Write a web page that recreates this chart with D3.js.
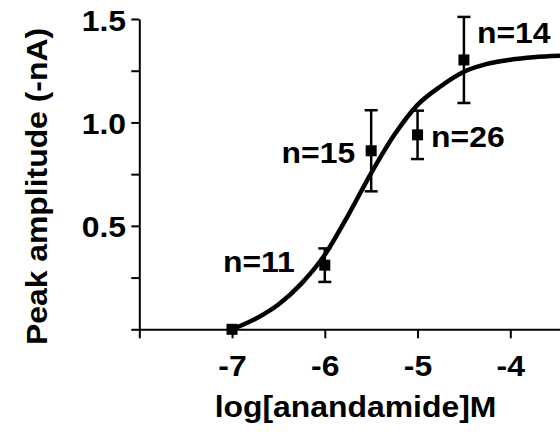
<!DOCTYPE html>
<html>
<head>
<meta charset="utf-8">
<script src="https://cdn.jsdelivr.net/npm/d3@7"></script>
<style>
  html, body { margin: 0; padding: 0; background: #fff; }
  svg text { font-family: "Liberation Sans", Arial, sans-serif; font-weight: bold; fill: #000; }
</style>
</head>
<body>
<div id="chart"></div>
<script>
// concentrations (log M), mean peak amplitude (-nA), SEM, cell count
const logConc = [-7, -6, -5.5, -5, -4.5];
const amplitude = [0.0, 0.31, 0.863, 0.94, 1.302];
const sem = [0, 0.081, 0.196, 0.117, 0.208];
const cellCount = [null, 11, 15, 26, 14];

// fitted curve
const fitX = [-7, -6.75, -6.5, -6.25, -6, -5.75, -5.5, -5.25, -5, -4.75, -4.5, -4.25, -4, -3.75, -3.45];
const fitY = [0.0, 0.05, 0.12, 0.222, 0.36, 0.55, 0.755, 0.94, 1.085, 1.175, 1.245, 1.283, 1.303, 1.315, 1.322];

const xTicks = [-8, -7, -6, -5, -4];
const xTickLabels = ["", "-7", "-6", "-5", "-4"];
const yTicks = [0, 0.25, 0.5, 0.75, 1.0, 1.25, 1.5];
const yTickLabels = ["", "", "0.5", "", "1.0", "", "1.5"];

const W = 560, H = 435;
const stretch = "scale(1.1,1)"; // text in the original is a bit wide

const svg = d3.select("#chart").append("svg")
  .attr("width", W).attr("height", H);

const x = d3.scaleLinear().domain([-8, -3.45]).range([139.3, 139.3 + 4.55 * 92.75]);
const y = d3.scaleLinear().domain([0, 1.5]).range([329.3, 19]);

// x axis
const xAxis = svg.append("g")
  .attr("transform", `translate(0,${y(0)})`)
  .call(d3.axisBottom(x).tickValues(xTicks).tickSize(9).tickSizeOuter(0)
    .tickFormat((d, i) => xTickLabels[i]));
xAxis.select(".domain").attr("stroke-width", 2);
xAxis.selectAll(".tick line").attr("stroke-width", 2);
xAxis.selectAll(".tick text")
  .attr("y", 47).attr("dy", 0)
  .attr("transform", stretch)
  .style("font-size", "29px");

// y axis
const yAxis = svg.append("g")
  .attr("transform", `translate(${x(-8)},0)`)
  .call(d3.axisLeft(y).tickValues(yTicks).tickSize(8).tickSizeOuter(0)
    .tickFormat((d, i) => yTickLabels[i]));
yAxis.select(".domain").attr("stroke-width", 2);
yAxis.selectAll(".tick line").attr("stroke-width", 2);
yAxis.selectAll(".tick text")
  .attr("x", -12).attr("y", 11).attr("dy", 0)
  .attr("transform", stretch)
  .style("font-size", "29px");

// fitted curve
const line = d3.line()
  .x((d, i) => x(fitX[i]))
  .y((d) => y(d))
  .curve(d3.curveMonotoneX);
svg.append("path")
  .attr("d", line(fitY))
  .attr("fill", "none")
  .attr("stroke", "#000")
  .attr("stroke-width", 4.5);

// error bars
const bars = svg.append("g").attr("stroke", "#000").attr("stroke-width", 2.5);
logConc.forEach((c, i) => {
  if (!sem[i]) return;
  const cx = x(c), top = y(amplitude[i] + sem[i]), bot = y(amplitude[i] - sem[i]);
  bars.append("line").attr("x1", cx).attr("x2", cx).attr("y1", top).attr("y2", bot);
  bars.append("line").attr("x1", cx - 6.5).attr("x2", cx + 6.5).attr("y1", top).attr("y2", top);
  bars.append("line").attr("x1", cx - 6.5).attr("x2", cx + 6.5).attr("y1", bot).attr("y2", bot);
});

// markers
const sq = 11;
svg.append("g").selectAll("rect")
  .data(logConc)
  .join("rect")
  .attr("x", (d) => x(d) - sq / 2)
  .attr("y", (d, i) => y(amplitude[i]) - sq / 2)
  .attr("width", sq).attr("height", sq)
  .attr("fill", "#000");

// n labels, placed next to their points
const labelPos = [null, [-30, 7, "end"], [-16, 12, "end"], [13.5, 12, "start"], [13, -17, "start"]];
logConc.forEach((c, i) => {
  if (!cellCount[i]) return;
  const [dx, dy, anchor] = labelPos[i];
  svg.append("g")
    .attr("transform", `translate(${x(c) + dx},${y(amplitude[i]) + dy}) ${stretch}`)
    .append("text")
    .attr("text-anchor", anchor)
    .style("font-size", "29px")
    .text("n=" + cellCount[i]);
});

// axis titles
svg.append("g")
  .attr("transform", `translate(355.5,417) ${stretch}`)
  .append("text")
  .attr("text-anchor", "middle")
  .style("font-size", "29px")
  .text("log[anandamide]M");

svg.append("g")
  .attr("transform", `translate(46.5,186.5) rotate(-90) ${stretch}`)
  .append("text")
  .attr("text-anchor", "middle")
  .style("font-size", "29px")
  .text("Peak amplitude (-nA)");
</script>
</body>
</html>
